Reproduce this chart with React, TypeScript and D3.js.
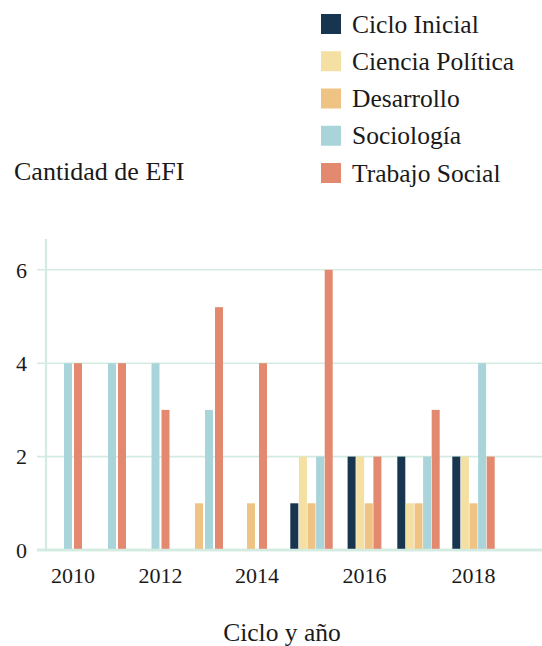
import React from "react";
import * as d3 from "d3";

const years = [2010, 2011, 2012, 2013, 2014, 2015, 2016, 2017, 2018];
const seriesNames = ["Ciclo Inicial", "Ciencia Política", "Desarrollo", "Sociología", "Trabajo Social"];
const cicloInicial = [null, null, null, null, null, 1, 2, 2, 2];
const cienciaPolitica = [null, null, null, null, null, 2, 2, 1, 2];
const desarrollo = [null, null, null, 1, 1, 1, 1, 1, 1];
const sociologia = [4, 4, 4, 3, null, 2, null, 2, 4];
const trabajoSocial = [4, 4, 3, 5.2, 4, 6, 2, 3, 2];
const yTicks = [0, 2, 4, 6];
const xTickYears = [2010, 2012, 2014, 2016, 2018];

const seriesValues: (number | null)[][] = [cicloInicial, cienciaPolitica, desarrollo, sociologia, trabajoSocial];
const colors = ["#17354f", "#f5e0a3", "#eec383", "#a9d5da", "#e3896f"];
const gridColor = "#d3ebe0";
const FONT = "Liberation Serif, DejaVu Serif, serif";

// layout: group centres along the x axis (uneven, as in the reference)
const groupCentres = [73, 117, 160.5, 209, 257, 311.5, 364.5, 418.5, 473.5];

export default function App() {
  const W = 542;
  const H = 646;
  const x = d3.scaleOrdinal<number, number>().domain(years).range(groupCentres);
  const y = d3.scaleLinear().domain([0, 6.66]).range([550, 239]);
  const barW = 8;

  const bars: { key: string; x: number; y: number; h: number; color: string }[] = [];
  years.forEach((yr, i) => {
    const present = seriesValues
      .map((vals, s) => ({ s, v: vals[i] }))
      .filter((d) => d.v !== null && d.v !== undefined) as { s: number; v: number }[];
    const n = present.length;
    const step = n === 2 && i === 4 ? 12 : n <= 3 ? 10 : 8.6;
    present.forEach((d, j) => {
      const cx = x(yr) + (j - (n - 1) / 2) * step;
      bars.push({
        key: `${yr}-${d.s}`,
        x: cx - barW / 2,
        y: y(d.v),
        h: y(0) - y(d.v),
        color: colors[d.s],
      });
    });
  });

  return (
    <svg
      width={W}
      height={H}
      style={{ position: "absolute", left: 0, top: 0, display: "block", background: "#fff", fontFamily: FONT }}
    >
      {/* legend */}
      {seriesNames.map((name, i) => (
        <g key={name} transform={`translate(321, ${14 + i * 37.25})`}>
          <rect width={20} height={20} fill={colors[i]} />
          <text x={31} y={18.5} fontSize={25.5} fill="#1a1a1a">
            {name}
          </text>
        </g>
      ))}

      {/* y title */}
      <text x={14} y={180} fontSize={26} fill="#1a1a1a">
        Cantidad de EFI
      </text>

      {/* gridlines */}
      {yTicks.map((t) => (
        <g key={t}>
          <line x1={37} x2={W} y1={y(t)} y2={y(t)} stroke={gridColor} strokeWidth={t === 0 ? 2.5 : 1.6} />
          <text x={27} y={y(t)} dy="0.35em" textAnchor="end" fontSize={22} fill="#1a1a1a">
            {t}
          </text>
        </g>
      ))}
      <line x1={46} x2={46} y1={239} y2={551} stroke={gridColor} strokeWidth={2.2} />

      {/* bars */}
      {bars.map((b) => (
        <rect key={b.key} x={b.x} y={b.y} width={barW} height={b.h} fill={b.color} />
      ))}
      {/* baseline over bars */}
      <line x1={37} x2={W} y1={y(0)} y2={y(0)} stroke={gridColor} strokeWidth={2.5} />

      {/* x tick labels */}
      {xTickYears.map((yr) => (
        <text key={yr} x={x(yr)} y={583} textAnchor="middle" fontSize={22} fill="#1a1a1a">
          {yr}
        </text>
      ))}

      {/* x title */}
      <text x={282} y={641} textAnchor="middle" fontSize={25.5} fill="#1a1a1a">
        Ciclo y año
      </text>
    </svg>
  );
}
